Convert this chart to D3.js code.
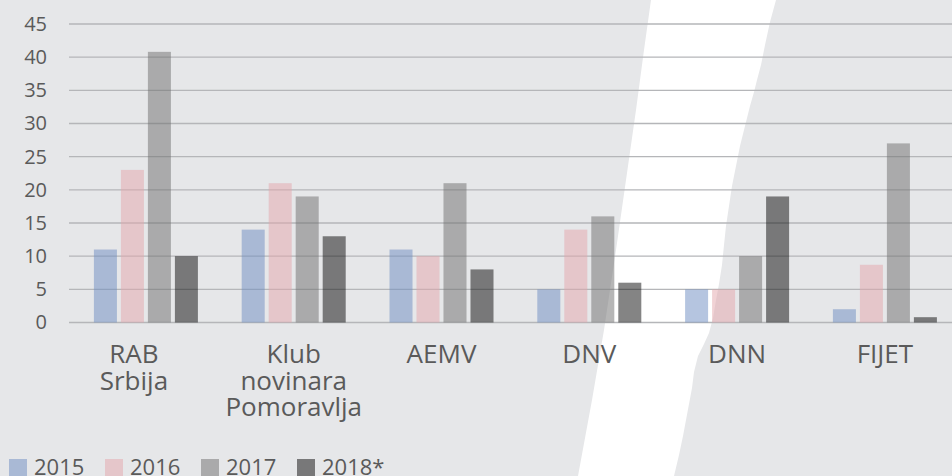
<!DOCTYPE html>
<html>
<head>
<meta charset="utf-8">
<script src="https://cdn.jsdelivr.net/npm/d3@7"></script>
<style>
  html, body { margin: 0; padding: 0; background: #e6e7e9; }
  svg { display: block; }
  text { font-family: "Open Sans", sans-serif; fill: #5a5a5a; }
</style>
</head>
<body>
<svg id="chart" width="952" height="476"></svg>
<script>
// ---- data ----
const categories = ["RAB Srbija", "Klub novinara Pomoravlja", "AEMV", "DNV", "DNN", "FIJET"];
const seriesNames = ["2015", "2016", "2017", "2018*"];
const values2015 = [11, 14, 11, 5, 5, 2];
const values2016 = [23, 21, 10, 14, 5, 8.7];
const values2017 = [40.8, 19, 21, 16, 10, 27];
const values2018 = [10, 13, 8, 6, 19, 0.8];
const yTicks = [0, 5, 10, 15, 20, 25, 30, 35, 40, 45];
const seriesColors = ["#6c8cc2", "#e4a6ac", "#6e6e6e", "#0a0a0a"];

const seriesValues = [values2015, values2016, values2017, values2018];

const W = 952, H = 476;
const svg = d3.select("#chart");

// background
svg.append("rect").attr("width", W).attr("height", H).attr("fill", "#e6e7e9");

// decorative white brush stripe
const stripe = [
  [651,0],[644,50],[636,110],[626,180],[616,250],[604,330],[592,400],[578,476],
  [674,476],[679,455],[683,436],[686,420],[689,404],[692,388],[694,372],[698,356],
  [704,344],[709,333],[713,318],[716,300],[719,284],[722,265],[724,245],[726,226],
  [729,206],[732,186],[736,166],[740,146],[745,126],[750,106],[754,92],[757,80],
  [761,65],[765,45],[770,22],[776,0]
];
svg.append("path")
  .attr("d", d3.line()(stripe) + "Z")
  .attr("fill", "#ffffff");

// scales
const y = d3.scaleLinear().domain([0, 45]).range([322.5, 24]);
const x0 = d3.scaleBand().domain(categories).range([72, 72 + 6 * 147.8]);
const groupW = 104;
const x1 = d3.scaleBand().domain(seriesNames).range([0, groupW]).paddingInner(0.148);

// gridlines
svg.append("g").selectAll("line").data(yTicks).join("line")
  .attr("x1", 69).attr("x2", W)
  .attr("y1", d => y(d)).attr("y2", d => y(d))
  .attr("stroke", "#b5b6b9").attr("stroke-width", 1.4);

// y axis labels
const yAxis = d3.axisLeft(y).tickValues(yTicks).tickSize(0).tickPadding(22);
const gy = svg.append("g").attr("transform", "translate(69,0)").call(yAxis);
gy.select(".domain").remove();
gy.selectAll("text").style("font-size", "20px").attr("fill", "#5a5a5a")
  .style("font-family", "'Open Sans', sans-serif");

// bars
const groups = svg.append("g").selectAll("g").data(categories).join("g")
  .attr("transform", c => `translate(${x0(c) + (x0.bandwidth() - groupW) / 2},0)`);
groups.selectAll("rect")
  .data((c, ci) => seriesNames.map((s, si) => ({ s, si, v: seriesValues[si][ci] })))
  .join("rect")
  .attr("x", d => x1(d.s))
  .attr("width", x1.bandwidth())
  .attr("y", d => y(d.v))
  .attr("height", d => y(0) - y(d.v))
  .attr("fill", d => seriesColors[d.si])
  .attr("fill-opacity", 0.5);

// category labels
const lab = svg.append("g").selectAll("text").data(categories).join("text")
  .attr("text-anchor", "middle")
  .style("font-size", "26px")
  .attr("transform", (c, i) => `translate(${x0(c) + x0.bandwidth() / 2 + (i === 0 ? -12 : 0)},363)`);
lab.selectAll("tspan").data(c => c.split(" ")).join("tspan")
  .attr("x", 0).attr("y", (d, i) => i * 26.5).text(d => d);

// legend
const leg = svg.append("g").selectAll("g").data(seriesNames).join("g")
  .attr("transform", (d, i) => `translate(${9 + i * 96},0)`);
leg.append("rect").attr("x", 0).attr("y", 459).attr("width", 18).attr("height", 18)
  .attr("fill", (d, i) => seriesColors[i]).attr("fill-opacity", 0.5);
leg.append("text").attr("x", 25).attr("y", 475).style("font-size", "22px").text(d => d);
</script>
</body>
</html>
